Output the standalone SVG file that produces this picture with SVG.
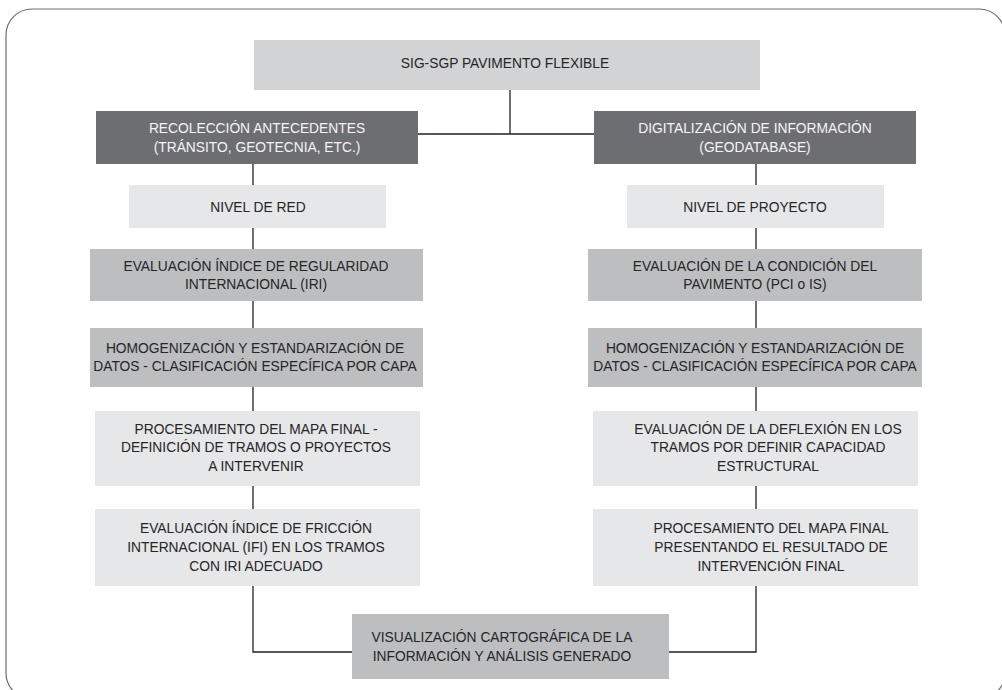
<svg xmlns="http://www.w3.org/2000/svg" width="1002" height="690" viewBox="0 0 1002 690">
<style>
text{font-family:"Liberation Sans",Arial,sans-serif;font-size:13.8px;text-anchor:middle;fill:#262626}
.dk text{fill:#f4f4f4}
.top{fill:#d1d3d4}
.dark{fill:#6d6e71}
.mid{fill:#bcbec0}
.lt{fill:#e6e7e8}
.conn{fill:none;stroke:#231f20;stroke-width:1.3}
</style>
<rect x="6" y="9" width="999" height="690" rx="26" fill="#fff" stroke="#6d6e71" stroke-width="1.2"/>
<g id="connectors" class="conn">
<path d="M510,90V134M418,134H594"/>
<path d="M253,164V185M253,228V249M253,301V328M253,387V411M253,486V509M253,586V652H352"/>
<path d="M756,164V185M756,228V249M756,301V328M756,387V411M756,486V509M756,586V652H669"/>
</g>
<g id="n-top"><rect class="top" x="254" y="40" width="506" height="50"/><text x="505" y="68">SIG-SGP PAVIMENTO FLEXIBLE</text></g>
<g id="n-recoleccion" class="dk"><rect class="dark" x="96" y="111" width="322" height="53"/><text x="257" y="133">RECOLECCIÓN ANTECEDENTES</text><text x="257" y="152">(TRÁNSITO, GEOTECNIA, ETC.)</text></g>
<g id="n-digitalizacion" class="dk"><rect class="dark" x="594" y="111" width="322" height="53"/><text x="755" y="133">DIGITALIZACIÓN DE INFORMACIÓN</text><text x="755" y="152">(GEODATABASE)</text></g>
<g id="n-red"><rect class="lt" x="129" y="185" width="257" height="43"/><text x="258" y="212">NIVEL DE RED</text></g>
<g id="n-proyecto"><rect class="lt" x="627" y="185" width="257" height="43"/><text x="755" y="212">NIVEL DE PROYECTO</text></g>
<g id="n-iri"><rect class="mid" x="90" y="249" width="333" height="52"/><text x="256" y="271">EVALUACIÓN ÍNDICE DE REGULARIDAD</text><text x="256" y="289">INTERNACIONAL (IRI)</text></g>
<g id="n-condicion"><rect class="mid" x="588" y="249" width="334" height="52"/><text x="755" y="271">EVALUACIÓN DE LA CONDICIÓN DEL</text><text x="755" y="289">PAVIMENTO (PCI o IS)</text></g>
<g id="n-homog-l"><rect class="mid" x="90" y="328" width="333" height="59"/><text x="255" y="353">HOMOGENIZACIÓN Y ESTANDARIZACIÓN DE</text><text x="255" y="371">DATOS - CLASIFICACIÓN ESPECÍFICA POR CAPA</text></g>
<g id="n-homog-r"><rect class="mid" x="588" y="328" width="334" height="59"/><text x="755" y="353">HOMOGENIZACIÓN Y ESTANDARIZACIÓN DE</text><text x="755" y="371">DATOS - CLASIFICACIÓN ESPECÍFICA POR CAPA</text></g>
<g id="n-proc-l"><rect class="lt" x="95" y="411" width="325" height="75"/><text x="256" y="434">PROCESAMIENTO DEL MAPA FINAL -</text><text x="256" y="452">DEFINICIÓN DE TRAMOS O PROYECTOS</text><text x="256" y="471">A INTERVENIR</text></g>
<g id="n-deflexion"><rect class="lt" x="593" y="411" width="325" height="75"/><text x="768" y="434">EVALUACIÓN DE LA DEFLEXIÓN EN LOS</text><text x="768" y="452">TRAMOS POR DEFINIR CAPACIDAD</text><text x="768" y="471">ESTRUCTURAL</text></g>
<g id="n-friccion"><rect class="lt" x="95" y="509" width="325" height="77"/><text x="256" y="533">EVALUACIÓN ÍNDICE DE FRICCIÓN</text><text x="256" y="552">INTERNACIONAL (IFI) EN LOS TRAMOS</text><text x="256" y="571">CON IRI ADECUADO</text></g>
<g id="n-proc-r"><rect class="lt" x="593" y="509" width="325" height="77"/><text x="771" y="533">PROCESAMIENTO DEL MAPA FINAL</text><text x="771" y="552">PRESENTANDO EL RESULTADO DE</text><text x="771" y="571">INTERVENCIÓN FINAL</text></g>
<g id="n-visualizacion"><rect class="mid" x="352" y="614" width="317" height="65"/><text x="502" y="642">VISUALIZACIÓN CARTOGRÁFICA DE LA</text><text x="502" y="661">INFORMACIÓN Y ANÁLISIS GENERADO</text></g>
</svg>
